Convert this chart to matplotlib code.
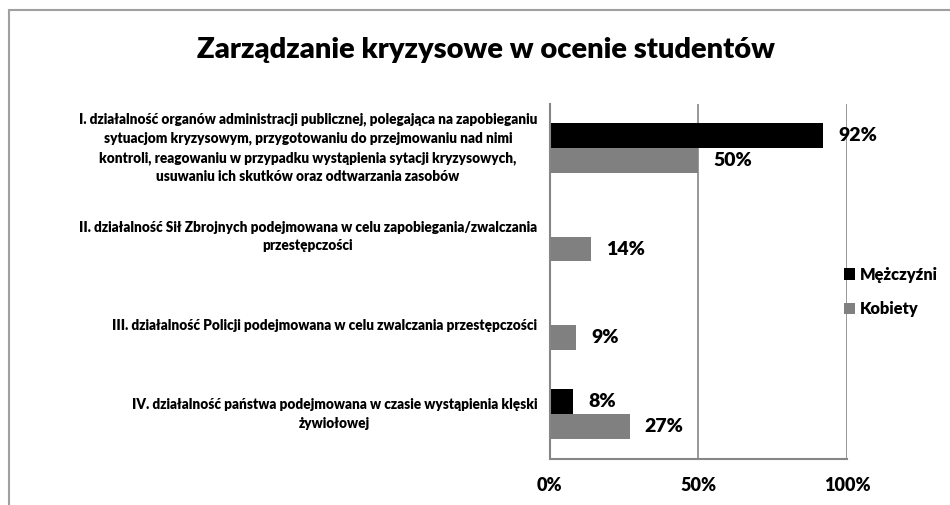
import matplotlib.pyplot as plt
from matplotlib.patches import Rectangle
import numpy as np

plt.rcParams['font.family'] = ['Lato', 'DejaVu Sans']

title = "Zarządzanie kryzysowe w ocenie studentów"
categories = [
    "I. działalność organów administracji publicznej, polegająca na zapobieganiu\n"
    "sytuacjom kryzysowym, przygotowaniu do przejmowaniu nad nimi\n"
    "kontroli, reagowaniu w przypadku wystąpienia sytacji kryzysowych,\n"
    "usuwaniu ich skutków oraz odtwarzania zasobów",
    "II. działalność Sił Zbrojnych podejmowana w celu zapobiegania/zwalczania\n"
    "przestępczości",
    "III. działalność Policji podejmowana w celu zwalczania przestępczości",
    "IV. działalność państwa podejmowana w czasie wystąpienia klęski\n"
    "żywiołowej",
]
men = [92, 0, 0, 8]
women = [50, 14, 9, 27]
series_names = ["Mężczyźni", "Kobiety"]
xticks = [0, 50, 100]

W = 'heavy'

fig = plt.figure(figsize=(9.5, 5.05), dpi=100)
# gray chart-area border (cut off at right and bottom like in the source)
fig.patches.append(Rectangle((9 / 950, -0.1), 1.2, (505 - 10) / 505 + 0.1,
                             transform=fig.transFigure, fill=False,
                             edgecolor='#a0a0a0', linewidth=1.5))

ax = fig.add_axes([549.5 / 950, 1 - 458.5 / 505, (847 - 549.5) / 950, 355 / 505])

y = np.arange(len(categories))
h = 0.28
b1 = ax.barh(y - h / 2, men, height=h, color='black', label=series_names[0])
b2 = ax.barh(y + h / 2, women, height=h, color='#808080', label=series_names[1])

for bars, vals in ((b1, men), (b2, women)):
    for bar, v in zip(bars, vals):
        if v == 0:
            continue
        ax.annotate(f"{v}%", (v, bar.get_y() + bar.get_height() / 2),
                    xytext=(15, 0), textcoords='offset pixels',
                    ha='left', va='center', fontsize=14, fontweight=W)

ax.set_ylim(len(categories) - 0.5, -0.5)
ax.set_xlim(0, 100)
ax.set_xticks(xticks)
ax.set_xticklabels([f"{t}%" for t in xticks], fontsize=13, fontweight=W)
ax.tick_params(axis='x', length=0, pad=13)
ax.set_yticks([])
for yy, lab in zip(y, categories):
    ax.text(-12.5 / 297.5, yy, lab, transform=ax.get_yaxis_transform(),
            ha='right', va='center', multialignment='center',
            fontsize=9.8, fontweight=W, linespacing=1.5)

ax.grid(axis='x', color='#868686', linewidth=1.2)
ax.set_axisbelow(True)
for s in ('top', 'right'):
    ax.spines[s].set_visible(False)
for s in ('left', 'bottom'):
    ax.spines[s].set_color('#868686')
    ax.spines[s].set_linewidth(1.5)

leg = fig.legend(loc='center left', bbox_to_anchor=(829 / 950, 1 - 292 / 505),
                 frameon=False, prop={'weight': W, 'size': 11.8},
                 handlelength=0.7, handleheight=0.7, handletextpad=0.3,
                 labelspacing=1.15)

fig.text(486 / 950, 1 - 50 / 505, title, ha='center', va='center',
         fontsize=21, fontweight=W)

fig.savefig('out.png', dpi=100)
